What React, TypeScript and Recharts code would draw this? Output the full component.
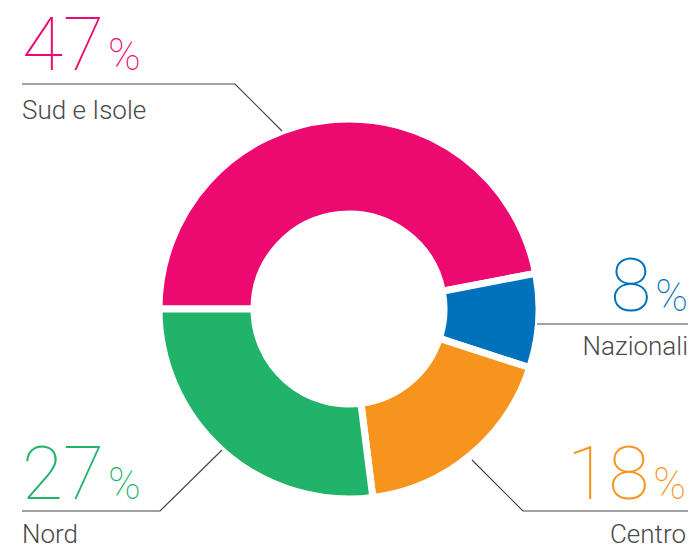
import { PieChart, Pie, Cell } from 'recharts'

const regions = ['Sud e Isole', 'Nazionali', 'Centro', 'Nord']
const shares = [47, 8, 18, 27]
const colors = ['#EC0A70', '#0072BC', '#F7941E', '#22B36B']

const data = regions.map((name, i) => ({ name, value: shares[i] }))

// where each callout sits: leader line points, text anchor and baselines
const callouts = [
  { line: [[282, 131], [235, 84], [22, 84]], x: 22, anchor: 'start', numY: 70, labY: 119 },
  { line: [[537, 324], [688, 324]], x: 688, anchor: 'end', numY: 311, labY: 355 },
  { line: [[472, 460], [523, 511], [688, 511]], x: 686, anchor: 'end', numY: 499, labY: 543 },
  { line: [[222, 450], [160, 511], [22, 511]], x: 22, anchor: 'start', numY: 499, labY: 543 },
]

const FONT = 'Roboto, "Open Sans", sans-serif'

function renderCallout(props: any) {
  const i = props.index as number
  const c = callouts[i]
  const pts = c.line.map((p) => p.join(',')).join(' ')
  return (
    <g key={`callout-${i}`}>
      <polyline points={pts} fill="none" stroke="#444" strokeWidth={1.2} />
      <text
        x={c.x}
        y={c.numY}
        textAnchor={c.anchor}
        fill={colors[i]}
        fontFamily={FONT}
        fontWeight={100}
      >
        <tspan fontSize={75}>{shares[i]}</tspan>
        <tspan fontSize={44} dx={4}>%</tspan>
      </text>
      <text
        x={c.x}
        y={c.labY}
        textAnchor={c.anchor}
        fill="#4a4a4a"
        fontFamily={FONT}
        fontWeight={300}
        fontSize={26}
      >
        {regions[i]}
      </text>
    </g>
  )
}

export default function App() {
  return (
    <div style={{ width: 693, height: 549 }}>
      <style>{'body{margin:0}'}</style>
      <PieChart width={693} height={549} margin={{ top: 0, right: 0, bottom: 0, left: 0 }}>
        <Pie
          data={data}
          dataKey="value"
          cx={349}
          cy={309}
          startAngle={180}
          endAngle={-180}
          innerRadius={95}
          outerRadius={190}
          stroke="#fff"
          strokeWidth={7}
          label={renderCallout}
          labelLine={false}
          isAnimationActive={false}
        >
          {data.map((d, i) => (
            <Cell key={d.name} fill={colors[i]} />
          ))}
        </Pie>
      </PieChart>
    </div>
  )
}
